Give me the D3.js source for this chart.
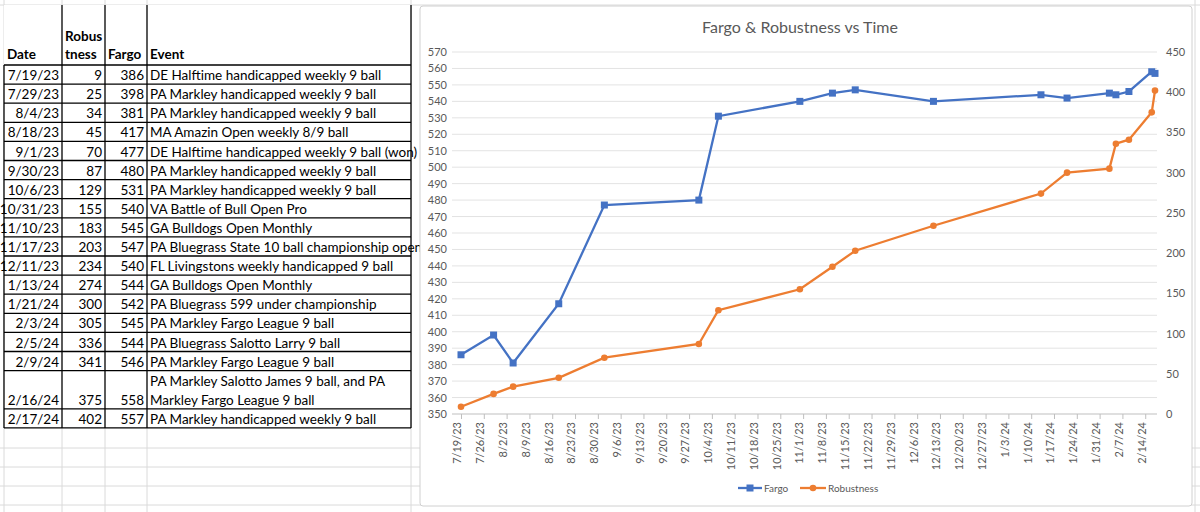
<!DOCTYPE html>
<html>
<head>
<meta charset="UTF-8">
<script src="https://cdn.jsdelivr.net/npm/d3@7"></script>
<style>body{margin:0;background:#fff}</style>
</head>
<body>
<div id="app"></div>
<script>
var dates = ["7/19/23","7/29/23","8/4/23","8/18/23","9/1/23","9/30/23","10/6/23","10/31/23","11/10/23","11/17/23","12/11/23","1/13/24","1/21/24","2/3/24","2/5/24","2/9/24","2/16/24","2/17/24"];
var robustness = [9,25,34,45,70,87,129,155,183,203,234,274,300,305,336,341,375,402];
var fargo = [386,398,381,417,477,480,531,540,545,547,540,544,542,545,544,546,558,557];
var events = ["DE Halftime handicapped weekly 9 ball","PA Markley handicapped weekly 9 ball","PA Markley handicapped weekly 9 ball","MA Amazin Open weekly 8/9 ball","DE Halftime handicapped weekly 9 ball (won)","PA Markley handicapped weekly 9 ball","PA Markley handicapped weekly 9 ball","VA Battle of Bull Open Pro","GA Bulldogs Open Monthly","PA Bluegrass State 10 ball championship open","FL Livingstons weekly handicapped 9 ball","GA Bulldogs Open Monthly","PA Bluegrass 599 under championship","PA Markley Fargo League 9 ball","PA Bluegrass Salotto Larry 9 ball","PA Markley Fargo League 9 ball","PA Markley Salotto James 9 ball, and PA|Markley Fargo League 9 ball","PA Markley handicapped weekly 9 ball"];

var W = 1200, H = 512;
var svg = d3.select("#app").append("svg").attr("width", W).attr("height", H)
    .style("font-family", "Lato, 'Noto Sans', sans-serif");

// spreadsheet grid
var grid = svg.append("g").attr("stroke", "#dadada").attr("stroke-width", 1);
[4, 62, 105, 147, 411, 1195].forEach(function (x) {
    grid.append("line").attr("x1", x).attr("x2", x).attr("y1", 0).attr("y2", H);
});
[5, 448, 467, 486, 505].forEach(function (y) {
    grid.append("line").attr("x1", 0).attr("x2", W).attr("y1", y).attr("y2", y);
});

// table
var cols = [4, 62, 105, 147, 411];
var rowH = 19.1;
var rowTops = [65];
dates.forEach(function (d, i) {
    rowTops.push(rowTops[i] + (events[i].indexOf("|") >= 0 ? rowH * 2 : rowH));
});
var tb = svg.append("g").attr("font-size", 13.5).attr("fill", "#000");
tb.append("rect").attr("x", 4).attr("y", 5).attr("width", 407).attr("height", rowTops[rowTops.length - 1] - 5).attr("fill", "#fff");
var hd = tb.append("g").attr("font-weight", "bold");
hd.append("text").attr("x", 7).attr("y", 59).text("Date");
hd.append("text").attr("x", 65).attr("y", 41).text("Robus");
hd.append("text").attr("x", 65).attr("y", 59).text("tness");
hd.append("text").attr("x", 108).attr("y", 59).text("Fargo");
hd.append("text").attr("x", 150).attr("y", 59).text("Event");
dates.forEach(function (d, i) {
    var y = rowTops[i + 1] - 4;
    tb.append("text").attr("x", 59).attr("y", y).attr("text-anchor", "end").text(d);
    tb.append("text").attr("x", 102).attr("y", y).attr("text-anchor", "end").text(robustness[i]);
    tb.append("text").attr("x", 144).attr("y", y).attr("text-anchor", "end").text(fargo[i]);
    var parts = events[i].split("|");
    parts.forEach(function (p, k) {
        tb.append("text").attr("x", 150).attr("y", y - (parts.length - 1 - k) * rowH).text(p);
    });
});
var lines = tb.append("g").attr("stroke", "#000");
rowTops.forEach(function (y, i) {
    lines.append("line").attr("x1", 4).attr("x2", 411).attr("y1", y).attr("y2", y).attr("stroke-width", 1.3);
});
cols.forEach(function (x, i) {
    lines.append("line").attr("x1", x).attr("x2", x).attr("y1", i == 0 ? 65 : 5).attr("y2", rowTops[rowTops.length - 1]).attr("stroke-width", 1.3);
});

// chart
svg.append("rect").attr("x", 420).attr("y", 6).attr("width", 772).attr("height", 500).attr("rx", 3)
    .attr("fill", "#fff").attr("stroke", "#d0d0d0");
svg.append("text").attr("x", 800).attr("y", 33).attr("text-anchor", "middle")
    .attr("font-size", 16).attr("fill", "#595959").text("Fargo & Robustness vs Time");

var parse = d3.timeParse("%m/%d/%y");
var fmt = function (d) { return (d.getMonth() + 1) + "/" + d.getDate() + "/" + (d.getFullYear() % 100); };
var x = d3.scaleTime().domain([parse("7/19/23"), parse("2/17/24")]).range([461, 1155]);
var yL = d3.scaleLinear().domain([350, 570]).range([414, 52]);
var yR = d3.scaleLinear().domain([0, 450]).range([414, 52]);

var gl = svg.append("g");
yL.ticks(22).forEach(function (t) {
    gl.append("line").attr("x1", 452).attr("x2", 1157).attr("y1", yL(t)).attr("y2", yL(t))
        .attr("stroke", t == 350 ? "#bfbfbf" : "#e3e3e3");
});
var axL = svg.append("g").attr("transform", "translate(449,0)")
    .call(d3.axisLeft(yL).ticks(22).tickSize(0).tickPadding(2));
var axR = svg.append("g").attr("transform", "translate(1160,0)")
    .call(d3.axisRight(yR).ticks(9).tickSize(0).tickPadding(6));
var weeks = d3.timeDay.every(7).range(parse("7/19/23"), parse("2/18/24"));
weeks = d3.range(31).map(function (i) { return d3.timeDay.offset(parse("7/19/23"), i * 7); });
var axX = svg.append("g").attr("transform", "translate(0,414)")
    .call(d3.axisBottom(x).tickValues(weeks).tickFormat(fmt).tickSize(5));
axX.selectAll("text").attr("transform", "rotate(-90)").attr("text-anchor", "end")
    .attr("x", -8).attr("y", -4).attr("dy", "0.35em");
[axL, axR, axX].forEach(function (a) {
    a.select(".domain").remove();
    a.selectAll("text").attr("fill", "#595959").attr("font-size", 11).attr("font-family", "Lato, 'Noto Sans', sans-serif");
    a.selectAll("line").attr("stroke", "#bfbfbf");
});

var pts = dates.map(function (d, i) { return { t: parse(d), f: fargo[i], r: robustness[i] }; });
var blue = "#4472C4", orange = "#ED7D31";
svg.append("path").datum(pts).attr("fill", "none").attr("stroke", orange).attr("stroke-width", 2.3)
    .attr("d", d3.line().x(function (d) { return x(d.t); }).y(function (d) { return yR(d.r); }));
svg.selectAll(".rc").data(pts).enter().append("circle")
    .attr("cx", function (d) { return x(d.t); }).attr("cy", function (d) { return yR(d.r); })
    .attr("r", 3.3).attr("fill", orange);
svg.append("path").datum(pts).attr("fill", "none").attr("stroke", blue).attr("stroke-width", 2.3)
    .attr("d", d3.line().x(function (d) { return x(d.t); }).y(function (d) { return yL(d.f); }));
svg.selectAll(".fs").data(pts).enter().append("rect")
    .attr("x", function (d) { return x(d.t) - 3.5; }).attr("y", function (d) { return yL(d.f) - 3.5; })
    .attr("width", 7).attr("height", 7).attr("fill", blue);

// legend
var lg = svg.append("g").attr("font-size", 10).attr("fill", "#595959");
lg.append("line").attr("x1", 738).attr("x2", 762).attr("y1", 488).attr("y2", 488).attr("stroke", blue).attr("stroke-width", 2.3);
lg.append("rect").attr("x", 746.5).attr("y", 484.5).attr("width", 7).attr("height", 7).attr("fill", blue);
lg.append("text").attr("x", 764).attr("y", 491.5).text("Fargo");
lg.append("line").attr("x1", 800).attr("x2", 826).attr("y1", 488).attr("y2", 488).attr("stroke", orange).attr("stroke-width", 2.3);
lg.append("circle").attr("cx", 813).attr("cy", 488).attr("r", 3.3).attr("fill", orange);
lg.append("text").attr("x", 828).attr("y", 491.5).text("Robustness");
</script>
</body>
</html>
